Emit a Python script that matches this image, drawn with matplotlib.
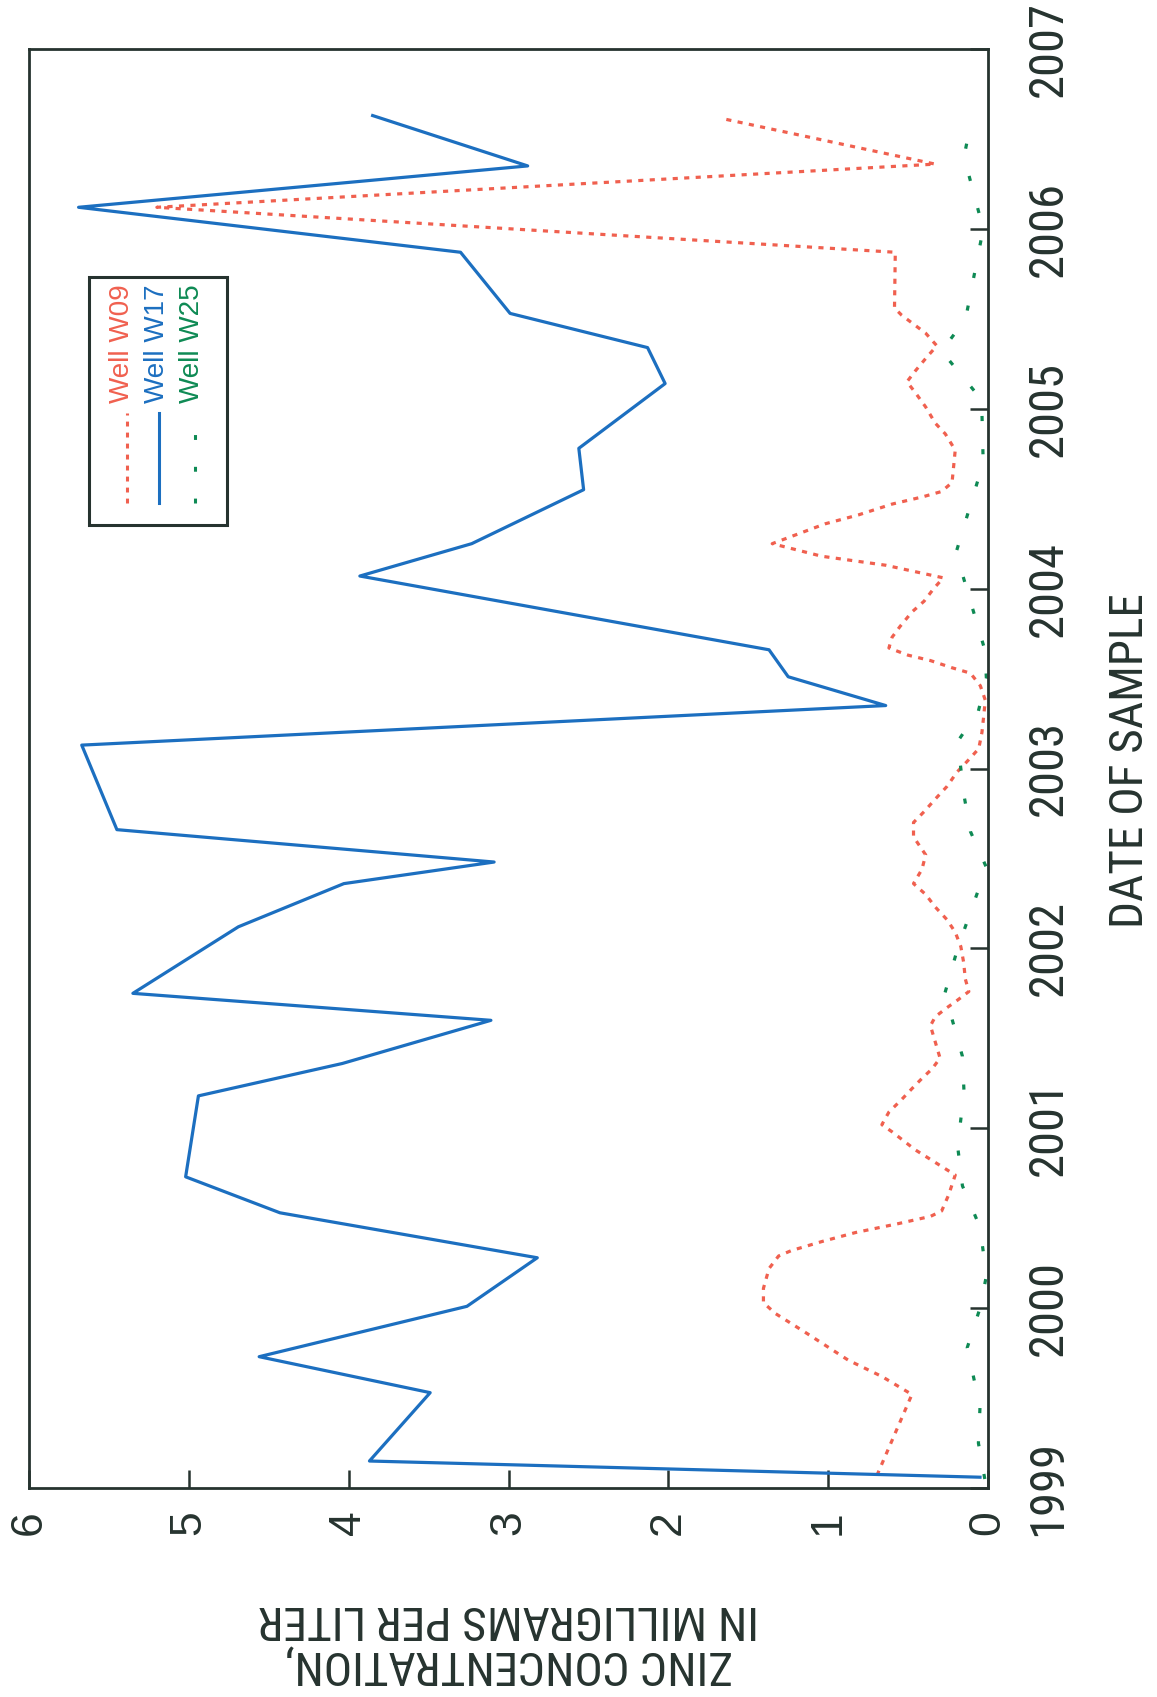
import matplotlib
matplotlib.use("Agg")
import matplotlib.pyplot as plt
from matplotlib import font_manager
from matplotlib.patches import Rectangle

# well W17 (solid blue)
w17_year = [1999.06, 1999.15, 1999.53, 1999.73, 2000.01, 2000.28, 2000.53, 2000.73,
            2001.18, 2001.36, 2001.60, 2001.75, 2002.12, 2002.36, 2002.48, 2002.66,
            2003.13, 2003.35, 2003.51, 2003.66, 2004.07, 2004.25, 2004.55, 2004.78,
            2005.14, 2005.34, 2005.53, 2005.87, 2006.12, 2006.35, 2006.63]
w17_zinc = [0.05, 3.87, 3.49, 4.56, 3.26, 2.82, 4.43, 5.02,
            4.94, 4.04, 3.11, 5.35, 4.69, 4.03, 3.09, 5.45,
            5.67, 0.64, 1.25, 1.37, 3.93, 3.23, 2.53, 2.56,
            2.02, 2.13, 2.99, 3.30, 5.69, 2.88, 3.85]

# well W09 (red dotted)
w09_year = [1999.07, 1999.52, 1999.62, 1999.71, 1999.86, 1999.97, 2000.03, 2000.11,
            2000.22, 2000.29, 2000.32, 2000.37, 2000.42, 2000.47, 2000.51, 2000.54,
            2000.63, 2000.74, 2000.81, 2000.88, 2000.98, 2001.02, 2001.09, 2001.16,
            2001.22, 2001.28, 2001.33, 2001.39, 2001.48, 2001.57, 2001.62, 2001.67,
            2001.71, 2001.76, 2001.83, 2001.92, 2002.01, 2002.09, 2002.16, 2002.23,
            2002.30, 2002.36, 2002.44, 2002.52, 2002.62, 2002.70, 2002.76, 2002.83,
            2002.90, 2002.98, 2003.04, 2003.11, 2003.20, 2003.29, 2003.38, 2003.46,
            2003.53, 2003.56, 2003.60, 2003.63, 2003.67, 2003.73, 2003.79, 2003.87,
            2003.93, 2004.00, 2004.06, 2004.09, 2004.13, 2004.18, 2004.25, 2004.29,
            2004.36, 2004.41, 2004.47, 2004.51, 2004.54, 2004.59, 2004.77, 2004.86,
            2004.92, 2005.01, 2005.09, 2005.15, 2005.21, 2005.29, 2005.35, 2005.42,
            2005.47, 2005.52, 2005.56, 2005.87, 2006.12, 2006.36, 2006.61]
w09_zinc = [0.695, 0.476, 0.664, 0.873, 1.134, 1.33, 1.405, 1.405,
            1.37, 1.31, 1.23, 1.04, 0.83, 0.56, 0.36, 0.29,
            0.246, 0.205, 0.33, 0.455, 0.60, 0.664, 0.62, 0.54,
            0.476, 0.41, 0.35, 0.30, 0.33, 0.36, 0.33, 0.257,
            0.194, 0.12, 0.142, 0.152, 0.17, 0.205, 0.257, 0.33,
            0.39, 0.466, 0.413, 0.39, 0.466, 0.466, 0.40, 0.33,
            0.257, 0.194, 0.13, 0.058, 0.038, 0.027, 0.017, 0.048,
            0.11, 0.225, 0.36, 0.50, 0.62, 0.60, 0.55, 0.476,
            0.40, 0.34, 0.28, 0.434, 0.64, 1.04, 1.35, 1.23,
            1.02, 0.81, 0.60, 0.41, 0.29, 0.225, 0.205, 0.267,
            0.33, 0.39, 0.455, 0.507, 0.455, 0.38, 0.32, 0.39,
            0.465, 0.54, 0.585, 0.58, 5.2, 0.33, 1.645]

# well W25 (green dotted)
w25_year = [1999.05, 1999.25, 1999.45, 1999.78, 2000.0, 2000.18, 2000.45, 2000.68,
            2000.9, 2001.2, 2001.4, 2001.75, 2002.0, 2002.45, 2002.65, 2002.85,
            2003.15, 2003.32, 2003.5, 2003.66, 2004.2, 2004.7, 2005.05, 2005.32,
            2005.5, 2006.0, 2006.4, 2006.58]
w25_zinc = [0.02, 0.06, 0.05, 0.13, 0.05, 0.01, 0.05, 0.16,
            0.19, 0.15, 0.16, 0.27, 0.19, 0.01, 0.11, 0.15,
            0.19, 0.06, 0.01, 0.02, 0.20, 0.03, 0.04, 0.29,
            0.14, 0.03, 0.15, 0.11]

zinc_ticks = [0, 1, 2, 3, 4, 5, 6]
year_ticks = [1999, 2000, 2001, 2002, 2003, 2004, 2005, 2006, 2007]
legend_names = ["Well W09", "Well W17", "Well W25"]

red = "#f0604f"
blue = "#1c6fc0"
green = "#0e8a54"
dark = "#26332f"

# pick a narrow face if one is installed
entries = font_manager.fontManager.ttflist
def has(name, stretch=None):
    return any(f.name == name and (stretch is None or f.stretch == stretch) for f in entries)

if has("Liberation Sans Narrow"):
    narrow = dict(family="Liberation Sans Narrow")
elif has("Roboto Condensed"):
    narrow = dict(family="Roboto Condensed")
elif has("DejaVu Sans", "condensed"):
    narrow = dict(family="DejaVu Sans", stretch="condensed")
elif has("Roboto"):
    narrow = dict(family="Roboto")
else:
    narrow = dict(family="DejaVu Sans")
regular = dict(family="Liberation Sans" if has("Liberation Sans") else "DejaVu Sans")

red_ls = (0, (1.6, 2.0))
green_ls = (0, (1.6, 8.8))

W, H = 1157, 1697
fig = plt.figure(figsize=(W / 100, H / 100), dpi=100)
renderer = fig.canvas.get_renderer()

def fit(text, font, size, target_px):
    # shrink the size until the text is no longer than in the reference
    t = fig.text(0, 0, text, fontsize=size, **font)
    w = t.get_window_extent(renderer).width
    t.remove()
    return min(size, size * target_px / w)

year_size = fit("2006", narrow, 38, 96)
date_size = fit("DATE OF SAMPLE", narrow, 34, 342)
zinc_size = fit("IN MILLIGRAMS PER LITER", narrow, 34, 520)
legend_size = fit("Well W09", regular, 23, 119)

ax = fig.add_axes([29 / W, 1 - 1488 / H, (988 - 29) / W, (1488 - 49) / H])

ax.plot(w09_zinc, w09_year, color=red, lw=2.3, linestyle=red_ls)
ax.plot(w17_zinc, w17_year, color=blue, lw=2.3)
ax.plot(w25_zinc, w25_year, color=green, lw=2.3, linestyle=green_ls)

ax.set_xlim(6, 0)
ax.set_ylim(1999, 2007)
for s in ax.spines.values():
    s.set_color(dark)
    s.set_linewidth(2)

ax.yaxis.tick_right()
ax.tick_params(direction="in", length=13, width=1.8, color=dark, labelcolor=dark)
ax.set_xticks(zinc_ticks, labels=[str(v) for v in zinc_ticks], rotation=90,
              fontsize=32, ha="center", va="top", **regular)
ax.tick_params(axis="x", pad=16)
ax.set_yticks(year_ticks, labels=[str(v) for v in year_ticks], rotation=90,
              fontsize=year_size, ha="left", va="center", **narrow)
ax.tick_params(axis="y", pad=27)

fig.text(1130 / W, 1 - 761 / H, "DATE OF SAMPLE", rotation=90, ha="center",
         va="center", fontsize=date_size, color=dark, **narrow)
fig.text(509 / W, 1 - 1642 / H, "ZINC CONCENTRATION,\nIN MILLIGRAMS PER LITER",
         rotation=180, ha="center", va="center", multialignment="center",
         linespacing=1.05, fontsize=zinc_size, color=dark, **narrow)

# legend drawn by hand, turned on its side like the rest of the chart
ax.add_patch(Rectangle((0.0626, 0.6692), 0.1439, 0.1724, transform=ax.transAxes,
                       fill=False, edgecolor=dark, lw=2.2, zorder=5))
text_x = [0.0970, 0.1335, 0.1700]
line_x = [0.1022, 0.1356, 0.1731]
styles = [(red, red_ls), (blue, "-"), (green, green_ls)]
for name, tx, lx, (c, ls) in zip(legend_names, text_x, line_x, styles):
    ax.plot([lx, lx], [0.6845, 0.7470], transform=ax.transAxes, color=c,
            lw=2.2, linestyle=ls, zorder=6)
    ax.text(tx, 0.7540, name, transform=ax.transAxes, rotation=90, ha="center",
            va="bottom", fontsize=legend_size, color=c, zorder=6, **regular)

fig.savefig("out.png", dpi=100)
